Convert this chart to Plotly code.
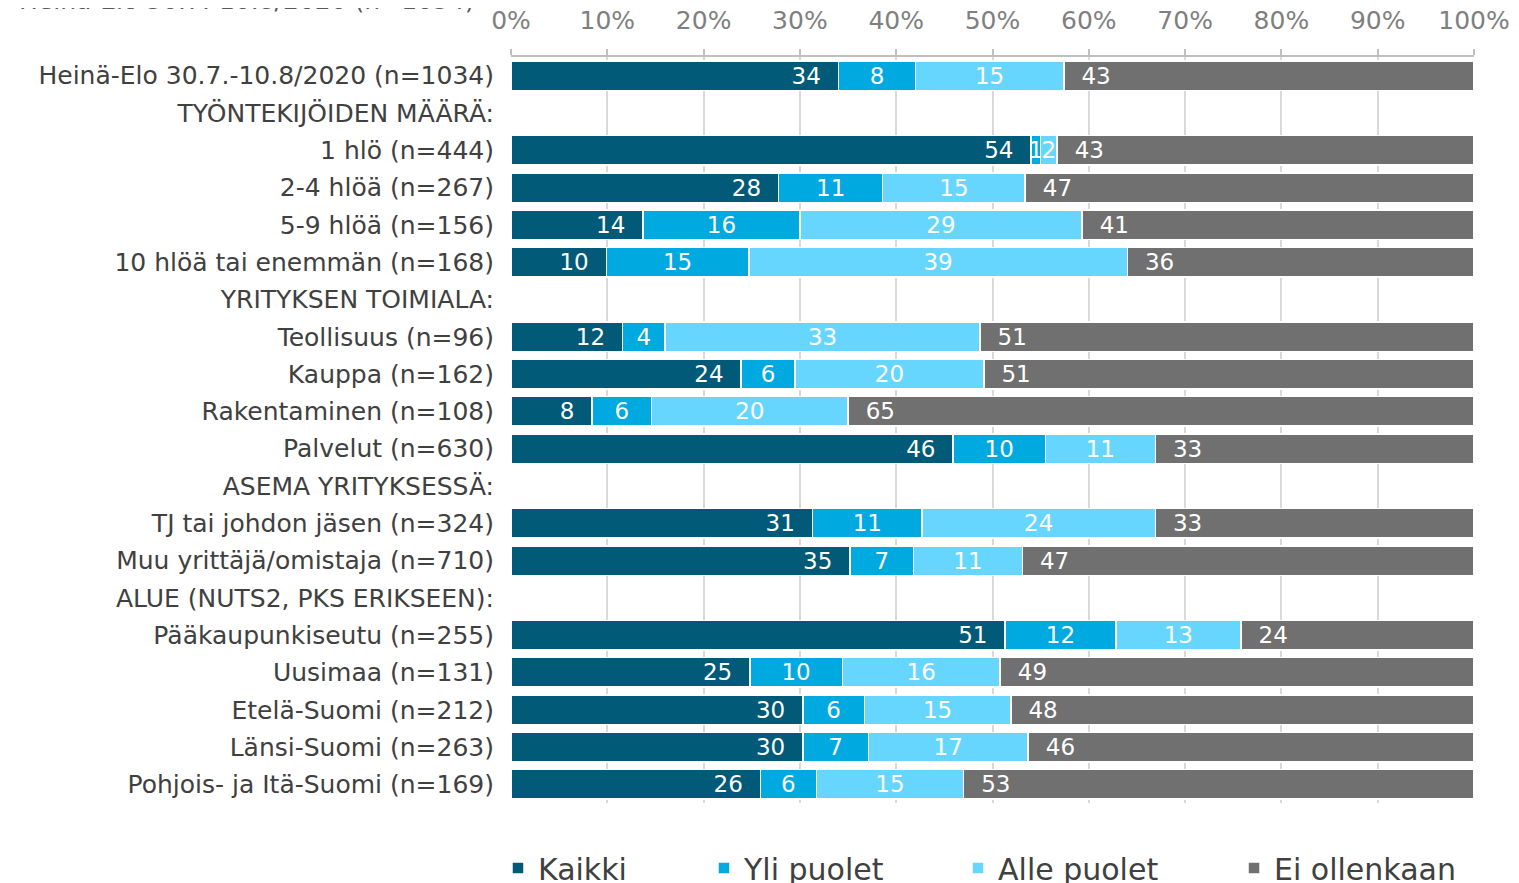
import plotly.graph_objects as go

categories = [
    "Heinä-Elo 30.7.-10.8/2020 (n=1034)",
    "TYÖNTEKIJÖIDEN MÄÄRÄ:",
    "1 hlö (n=444)",
    "2-4 hlöä (n=267)",
    "5-9 hlöä (n=156)",
    "10 hlöä tai enemmän (n=168)",
    "YRITYKSEN TOIMIALA:",
    "Teollisuus (n=96)",
    "Kauppa (n=162)",
    "Rakentaminen (n=108)",
    "Palvelut (n=630)",
    "ASEMA YRITYKSESSÄ:",
    "TJ tai johdon jäsen (n=324)",
    "Muu yrittäjä/omistaja (n=710)",
    "ALUE (NUTS2, PKS ERIKSEEN):",
    "Pääkaupunkiseutu (n=255)",
    "Uusimaa (n=131)",
    "Etelä-Suomi (n=212)",
    "Länsi-Suomi (n=263)",
    "Pohjois- ja Itä-Suomi (n=169)",
]

kaikki = [34.0, None, 54.0, 27.8, 13.7, 9.9, None, 11.6, 23.9, 8.4, 45.9, None, 31.3, 35.2, None, 51.3, 24.8, 30.3, 30.3, 25.9]
yli_puolet = [8.0, None, 1.0, 10.8, 16.3, 14.8, None, 4.4, 5.6, 6.2, 9.6, None, 11.4, 6.6, None, 11.5, 9.6, 6.4, 6.8, 5.8]
alle_puolet = [15.4, None, 1.7, 14.8, 29.3, 39.3, None, 32.7, 19.6, 20.4, 11.4, None, 24.2, 11.3, None, 13.0, 16.4, 15.2, 16.6, 15.3]
ei_ollenkaan = [42.6, None, 43.3, 46.6, 40.7, 36.0, None, 51.3, 50.9, 65.0, 33.1, None, 33.1, 46.9, None, 24.2, 49.2, 48.1, 46.3, 53.0]

series_names = ["Kaikki", "Yli puolet", "Alle puolet", "Ei ollenkaan"]
series_values = [kaikki, yli_puolet, alle_puolet, ei_ollenkaan]
series_colors = ["#005A78", "#00A9E0", "#66D6FF", "#707070"]
text_anchor = ["end", "middle", "middle", "start"]
text_templates = ["%{x:.0f}\u00a0\u00a0", "%{x:.0f}", "%{x:.0f}", "\u00a0\u00a0%{x:.0f}"]
legend_ids = ["legend", "legend2", "legend3", "legend4"]
legend_x = [-0.0135, 0.2004, 0.4642, 0.7508]

tick_vals = [0, 10, 20, 30, 40, 50, 60, 70, 80, 90, 100]
tick_text = ["0%", "10%", "20%", "30%", "40%", "50%", "60%", "70%", "80%", "90%", "100%"]

FONT = "DejaVu Sans, Verdana, sans-serif"

fig = go.Figure()
for name, vals, col, anc, tt, lg in zip(series_names, series_values, series_colors,
                                        text_anchor, text_templates, legend_ids):
    fig.add_trace(go.Bar(
        y=categories, x=vals, name=name, orientation="h",
        marker=dict(color=col, line=dict(color="white", width=1.5)),
        texttemplate=tt, textposition="inside", insidetextanchor=anc, textangle=0,
        textfont=dict(color="white", size=23, family=FONT),
        constraintext="none", legend=lg,
    ))

legend_common = dict(orientation="h", xanchor="left", yref="container",
                     y=0.0171, yanchor="middle",
                     font=dict(size=30, color="#404040", family=FONT),
                     itemwidth=30, bgcolor="rgba(0,0,0,0)")
legends = {}
for lg, lx in zip(legend_ids, legend_x):
    legends[lg] = dict(legend_common, x=lx)

fig.update_layout(
    barmode="stack", bargap=0.21,
    width=1511, height=875,
    margin=dict(l=503, r=45, t=49, b=80, autoexpand=False),
    paper_bgcolor="white", plot_bgcolor="white",
    font=dict(family=FONT, color="#404040"),
    uniformtext=dict(mode="show", minsize=23),
    showlegend=True,
    xaxis=dict(range=[0, 100], side="top", tickvals=tick_vals, ticktext=tick_text,
               showgrid=True, gridcolor="#D9D9D9", gridwidth=2,
               showline=True, linecolor="#BFBFBF", linewidth=2,
               ticks="outside", ticklen=6, tickcolor="#BFBFBF", tickwidth=2,
               ticklabelstandoff=10, automargin=False,
               tickfont=dict(size=25, color="#7F7F7F", family=FONT),
               zeroline=False, fixedrange=True),
    yaxis=dict(categoryorder="array", categoryarray=categories, autorange="reversed",
               tickfont=dict(size=25, color="#404040", family=FONT),
               ticks="", ticklabelstandoff=16, showgrid=False, fixedrange=True,
               automargin=False),
    **legends,
)

fig.add_annotation(text="Heinä-Elo 30.7.-10.8/2020 (n=1034)", xref="paper", yref="paper",
                   x=-0.513, y=1.0535, xanchor="left", yanchor="bottom", showarrow=False,
                   font=dict(size=25, color="#595959", family=FONT))

fig.write_html("out.html")
